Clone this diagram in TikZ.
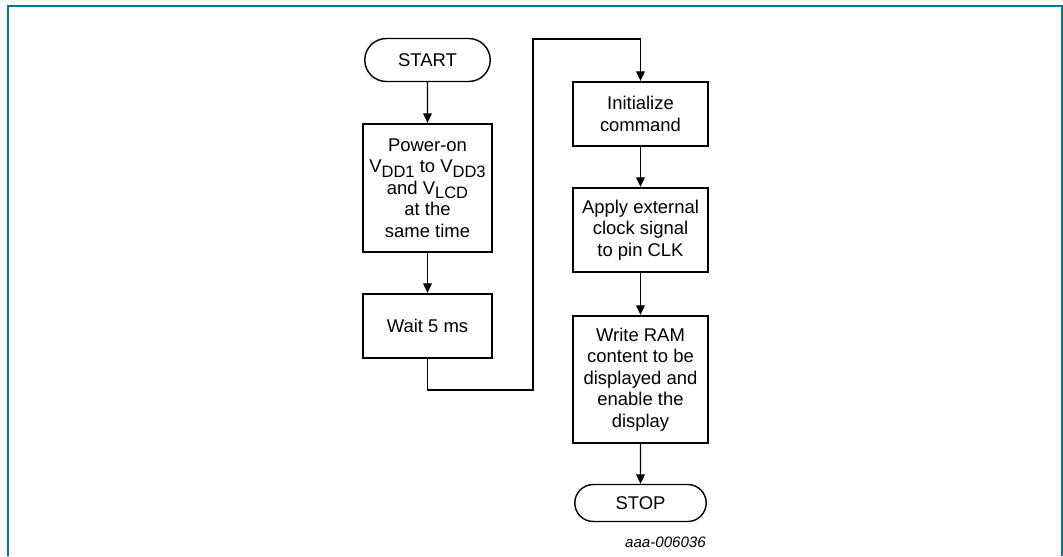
\documentclass[tikz,border=0pt]{standalone}
\usepackage{fontspec}
\setmainfont{Liberation Sans}
\usetikzlibrary{shapes.misc}
\usetikzlibrary{arrows.meta}
\usetikzlibrary{positioning}
\definecolor{frameteal}{HTML}{007A8C}
\tikzstyle{procbox} = [rectangle, draw=black, line width=1.35pt, align=center, inner sep=1pt, font=\fontsize{10.5}{12.3}\selectfont]
\tikzstyle{termbox} = [rounded rectangle, draw=black, line width=0.8pt, inner sep=1pt, font=\fontsize{10.5}{12.3}\selectfont]
\tikzstyle{arrow} = [line width=0.6pt,-{Triangle[length=5.4pt,width=5pt]}]
\newcommand{\lowidx}[1]{\raisebox{-0.45ex}{\fontsize{9.4}{9}\selectfont #1}}

\begin{document}
\begin{tikzpicture}[x=0.02cm,y=-0.02cm]

\useasboundingbox (0,0) rectangle (1063,556);

% frame
\draw[frameteal, line width=1.1pt] (8,556) -- (8,6) -- (1062,6) -- (1062,556);

% left column
\node[termbox, minimum width=2.58cm, minimum height=0.86cm] (start) at (427.5,60) {START};
\node[procbox, minimum width=2.58cm, minimum height=2.56cm] (power) at (427.5,188)
  {Power-on\\V\lowidx{DD1} to V\lowidx{DD3}\\and V\lowidx{LCD}\\at the\\same time};
\node[procbox, minimum width=2.58cm, minimum height=1.28cm] (wait) at (427.5,326) {Wait 5 ms};

% right column
\node[procbox, minimum width=2.7cm, minimum height=1.28cm] (init) at (640.5,114) {Initialize\\command};
\node[procbox, minimum width=2.7cm, minimum height=1.68cm] (clock) at (640.5,230)
  {Apply external\\clock signal\\to pin CLK};
\node[procbox, minimum width=2.7cm, minimum height=2.54cm] (ram) at (640.5,379.5)
  {Write RAM\\content to be\\displayed and\\enable the\\display};
\node[termbox, minimum width=2.7cm, minimum height=0.74cm] (stop) at (640.5,503) {STOP};

\node[anchor=east, font=\fontsize{8.6}{9}\selectfont\itshape] (figid) at (712,542) {aaa-006036};

% connectors
\coordinate (bendA) at (533,390);
\coordinate (bendB) at (533,39);

\draw[arrow] (start) -- (power);
\draw[arrow] (power) -- (wait);
\draw[arrow] (wait.south) |- (bendA) -- (bendB) -| (init.north);
\draw[arrow] (init) -- (clock);
\draw[arrow] (clock) -- (ram);
\draw[arrow] (ram) -- (stop);

\end{tikzpicture}
\end{document}
